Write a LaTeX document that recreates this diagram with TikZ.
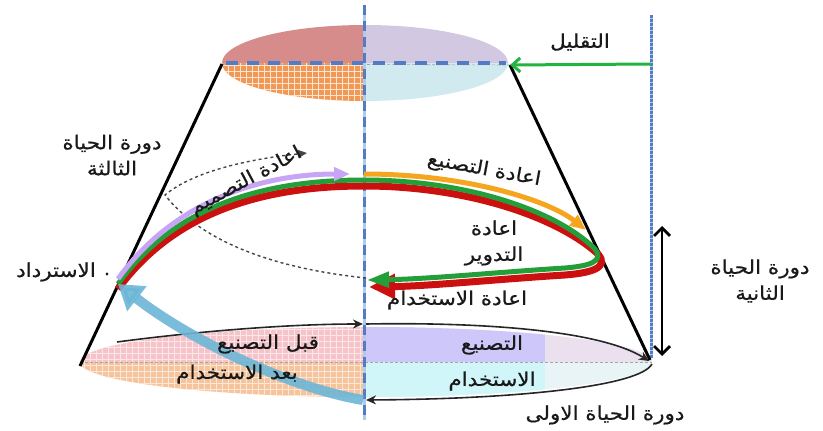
\documentclass[tikz,border=0pt]{standalone}
\usepackage{fontspec}
\usetikzlibrary{arrows.meta,patterns.meta}
\newfontfamily\arfont[Script=Arabic,FakeBold=0.6]{DejaVu Sans}
\TeXXeTstate=1
\newcommand\rtl[1]{\scalebox{1.13}[1]{\beginR #1\endR}}
\definecolor{roseC}{RGB}{213,140,138}
\definecolor{lavC}{RGB}{210,200,226}
\definecolor{orC}{RGB}{240,152,84}
\definecolor{cyC}{RGB}{208,234,240}
\definecolor{pinkC}{RGB}{246,196,200}
\definecolor{lorC}{RGB}{246,196,156}
\definecolor{lavTwo}{RGB}{206,200,250}
\definecolor{lavThree}{RGB}{234,224,238}
\definecolor{cyTwo}{RGB}{208,246,250}
\definecolor{cyThree}{RGB}{232,244,246}
\definecolor{axisC}{RGB}{84,124,196}
\definecolor{axisL}{RGB}{176,202,234}
\definecolor{purC}{RGB}{200,164,244}
\definecolor{orgC}{RGB}{246,166,30}
\definecolor{grC}{RGB}{36,158,56}
\definecolor{rdC}{RGB}{204,16,16}
\definecolor{blC}{RGB}{108,182,214}
\definecolor{arrG}{RGB}{34,180,64}
\begin{document}
\begin{tikzpicture}[x=1pt,y=-1pt,
  txt/.style={font=\arfont\fontsize{19}{26}\selectfont, inner sep=1pt, align=center, text=black!90},
  sideline/.style={line width=3pt, black},
  band/.style={line width=6pt},
  thinarc/.style={line width=1.6pt, black!85, -{Stealth[length=10pt,width=9pt]}},
  gridpat/.style={pattern={Hatch[angle=0,distance=6pt,line width=0.7pt]}}
]
\useasboundingbox (0,0) rectangle (823,431);
% key points
\coordinate (TC) at (365,63);
\coordinate (TL) at (222,64);
\coordinate (TR) at (510,65);
\coordinate (BC) at (366,362);
\coordinate (BL) at (80,366);
\coordinate (BR) at (650,360);
\coordinate (LP) at (118,284);

% top ellipse
\begin{scope}
  \clip (TC) ellipse [x radius=143, y radius=38];
  \fill[roseC] (215,20) rectangle (365,63);
  \fill[lavC] (365,20) rectangle (515,63);
  \fill[orC] (215,63) rectangle (365,110);
  \fill[gridpat, pattern color=white!75!orC] (215,63) rectangle (365,110);
  \fill[cyC] (365,63) rectangle (515,110);
\end{scope}
\draw[gray!70, densely dashed, line width=0.6pt] (TL) -- (TR);
\draw[axisC, line width=4pt, dash pattern=on 12pt off 9pt] (226,63) -- (506,63);

% bottom ellipse
\begin{scope}
  \clip (BC) ellipse [x radius=286, y radius=35];
  \fill[pinkC] (70,320) rectangle (366,362);
  \fill[gridpat, pattern color=white!60!pinkC] (70,320) rectangle (366,362);
  \fill[lorC] (70,362) rectangle (366,405);
  \fill[gridpat, pattern color=white!60!lorC] (70,362) rectangle (366,405);
  \fill[lavThree] (366,320) rectangle (660,362);
  \fill[lavTwo] (366,320) rectangle (545,362);
  \fill[cyThree] (366,362) rectangle (660,405);
  \fill[cyTwo] (366,362) rectangle (545,405);
\end{scope}
\draw[gray!70, densely dashed, line width=0.6pt] (80,362) -- (652,362);

% vertical axes
\draw[axisL, line width=3pt] (364,5) -- (364,420);
\draw[axisC, line width=3pt, dash pattern=on 10pt off 6pt] (364,5) -- (364,420);
\draw[axisL, line width=3pt] (651,15) -- (651,358);
\draw[axisC, line width=3pt, dash pattern=on 2.5pt off 1.5pt] (651,15) -- (651,358);

% side lines of the cone
\draw[sideline] (TL) -- (BL);
\draw[sideline] (TR) -- (BR);

% reduction arrow
\coordinate (RA) at (651,64);
\draw[arrG, line width=3pt, -{Straight Barb[length=8pt,width=14pt]}] (RA) -- (TR);

% double arrow (second life cycle)
\coordinate (DA) at (662,226);
\coordinate (DB) at (662,356);
\draw[black, line width=2.8pt, {Straight Barb[length=8pt,width=16pt]}-{Straight Barb[length=8pt,width=16pt]}] (DA) -- (DB);

% dashed redesign loop
\coordinate (DL) at (366,278);
\coordinate (DE) at (307,153);
\draw[gray!55!black, dashed, line width=1.4pt, -{Triangle[length=9pt,width=8pt]}]
  (DL) .. controls (270,268) and (200,240) .. (165,195)
       .. controls (190,174) and (240,160) .. (DE);

% thin black arrows on the bottom ellipse
\coordinate (A1) at (117,342);
\coordinate (A2) at (363,324);
\coordinate (A3) at (366,324);
\coordinate (A4) at (649,361);
\coordinate (A5) at (652,364);
\coordinate (A6) at (366,400);
\draw[thinarc] (A1) .. controls (200,331) and (290,324) .. (A2);
\draw[thinarc] (A3) .. controls (480,322) and (600,330) .. (A4);
\draw[thinarc] (A5) .. controls (640,386) and (520,399) .. (A6);

% coloured loops
\draw[band, rdC, line width=7pt, -{Triangle[length=26pt,width=24pt]}]
  (118,289) .. controls (175,211) and (265,186) .. (364,186)
  .. controls (465,186) and (556,216) .. (598,254)
  .. controls (610,268) and (590,273) .. (565,275)
  .. controls (500,279) and (430,286) .. (369,287);
\draw[band, grC, line width=5pt, -{Triangle[length=22pt,width=15pt]}]
  (LP) .. controls (175,205) and (265,180) .. (364,180)
  .. controls (465,180) and (555,210) .. (594,248)
  .. controls (606,262) and (588,266) .. (565,268)
  .. controls (500,272) and (430,279) .. (367,280);
\draw[band, purC, line width=5pt, -{Triangle[length=16pt,width=13pt]}]
  (118,279) .. controls (175,199) and (265,174) .. (350,174);
\draw[band, orgC, line width=5pt, -{Triangle[length=16pt,width=13pt]}]
  (364,174) .. controls (465,174) and (548,200) .. (586,230);

% light blue recovery arrow
\coordinate (BB) at (363,400);
\draw[blC, opacity=0.9, line width=10pt, -{Triangle[length=24pt,width=30pt]}]
  (BB) .. controls (290,388) and (190,340) .. (LP);

% labels
\node[txt] (lred) at (580,42) {\rtl{التقليل}};
\node[txt] (lthird) at (112,155) {\rtl{دورة الحياة}\\\rtl{الثالثة}};
\node[txt] (lsecond) at (760,281) {\rtl{دورة الحياة}\\\rtl{الثانية}};
\node[txt] (lrec) at (56,272) {\rtl{الاسترداد}};
\node[txt] (ldot) at (107,274) {.};
\node[txt, rotate=-10.5] (lreman) at (484,170) {\rtl{اعادة التصنيع}};
\node[txt, rotate=28] (lredes) at (246,181) {\rtl{اعادة التصميم}};
\node[txt] (lrecyc) at (494,243) {\rtl{اعادة}\\\rtl{التدوير}};
\node[txt] (lreuse) at (457,300) {\rtl{اعادة الاستخدام}};
\node[txt] (lpre) at (268,344) {\rtl{قبل التصنيع}};
\node[txt] (lpost) at (237,374) {\rtl{بعد الاستخدام}};
\node[txt] (lman) at (492,345) {\rtl{التصنيع}};
\node[txt] (luse) at (492,381) {\rtl{الاستخدام}};
\node[txt] (lfirst) at (605,415) {\rtl{دورة الحياة الاولى}};
\end{tikzpicture}
\end{document}
